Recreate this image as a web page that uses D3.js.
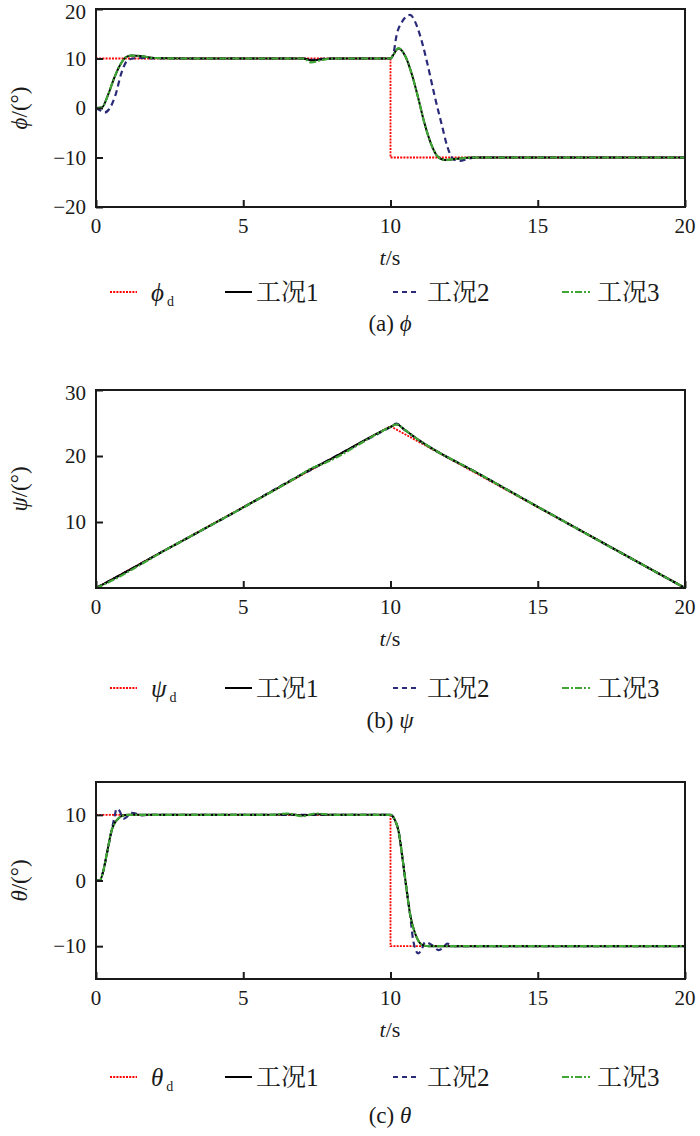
<!DOCTYPE html>
<html lang="en">
<head>
<meta charset="utf-8">
<title>phi psi theta</title>
<script src="https://d3js.org/d3.v7.min.js"></script>
</head>
<body style="margin:0">
<script type="text/javascript">
// x axis (shared)
var xTicks = [0, 5, 10, 15, 20];

// (a) phi
var phiDt = [0, 10, 10, 20];
var phiDv = [10, 10, -10, -10];
var phi1t = [0, 0.2, 0.4, 0.6, 0.8, 1.0, 1.2, 1.5, 2.0, 3, 5, 7.0, 7.15, 7.3, 7.6, 8.0, 9, 10.0, 10.1, 10.27, 10.5, 10.75, 10.95, 11.15, 11.4, 11.6, 11.85, 12.2, 12.8, 15, 20];
var phi1v = [0, 0.1, 2.5, 5.8, 8.5, 10.2, 10.6, 10.5, 10.1, 10, 10, 10, 9.9, 9.6, 9.8, 10, 10, 10, 10.8, 12.0, 10.5, 6.3, 1.8, -3.0, -7.6, -9.8, -10.5, -10.3, -10, -10, -10];
var phi3v = [0, 0.1, 2.5, 5.8, 8.5, 10.2, 10.6, 10.5, 10.1, 10, 10, 10, 9.7, 9.2, 9.6, 10, 10, 10, 10.8, 12.1, 10.5, 6.3, 1.8, -3.0, -7.6, -9.8, -10.5, -10.3, -10, -10, -10];
var phi2t = [0, 0.15, 0.3, 0.45, 0.65, 0.87, 1.05, 1.25, 1.5, 2, 5, 7.1, 7.3, 7.6, 8, 10, 10.1, 10.2, 10.4, 10.66, 10.9, 11.07, 11.27, 11.5, 11.75, 11.92, 12.13, 12.36, 12.6, 13, 20];
var phi2v = [0, -0.5, -0.9, -0.2, 2.4, 7.2, 9.5, 10.0, 10.1, 10, 10, 10, 9.7, 9.9, 10, 10, 11, 14.5, 17.5, 18.8, 16.5, 13.3, 8.5, 2.4, -3.6, -7.6, -10.3, -10.7, -10.3, -10, -10];

// (b) psi
var psiDt = [0, 10, 20];
var psiDv = [0, 24.5, 0];
var psi1t = [0, 0.3, 2.5, 5, 6.9, 7.3, 7.7, 10, 10.2, 10.5, 11, 13, 15, 20];
var psi1v = [0, 0.7, 6.1, 12.2, 17.0, 18.0, 18.9, 24.4, 24.8, 23.9, 22.3, 17.3, 12.3, 0];
var psi2v = [0, 0.7, 6.1, 12.2, 17.0, 17.9, 18.9, 24.4, 24.9, 23.9, 22.3, 17.3, 12.3, 0];
var psi3v = [0, 0.6, 6.1, 12.2, 17.0, 18.1, 18.8, 24.4, 24.8, 23.9, 22.3, 17.3, 12.3, 0];

// (c) theta
var thDt = [0, 10, 10, 20];
var thDv = [10, 10, -10, -10];
var th1t = [0, 0.13, 0.25, 0.37, 0.53, 0.64, 0.75, 0.87, 1.1, 1.5, 6, 6.5, 7, 7.5, 8, 10, 10.05, 10.15, 10.27, 10.43, 10.55, 10.66, 10.83, 10.95, 11.07, 11.3, 20];
var th1v = [0, 0, 1.5, 4.1, 7.6, 8.8, 9.4, 9.8, 10, 10, 10, 10.1, 9.9, 10.1, 10, 10, 9.9, 9.2, 7.6, 2.6, -1.5, -5, -8, -9.2, -9.8, -10, -10];
var th3v = [0, 0, 1.5, 4.1, 7.6, 8.8, 9.4, 9.8, 10, 10, 10, 10.2, 9.8, 10.2, 10, 10, 9.9, 9.2, 7.6, 2.6, -1.5, -5, -8, -9.2, -9.8, -10, -10];
var th2t = [0, 0.13, 0.25, 0.37, 0.53, 0.62, 0.7, 0.8, 0.93, 1.05, 1.2, 1.35, 1.5, 1.8, 6, 10, 10.05, 10.15, 10.27, 10.43, 10.55, 10.66, 10.77, 10.94, 11.05, 11.17, 11.4, 11.63, 11.8, 11.92, 12.2, 20];
var th2v = [0, 0, 1.5, 4.1, 7.6, 9.5, 10.9, 10.6, 9.4, 9.7, 10.3, 10.2, 9.9, 10, 10, 10, 9.9, 9.2, 7.6, 2.6, -1.5, -5, -9.1, -11.1, -10.6, -9.4, -9.8, -10.6, -10.2, -9.6, -10, -10];

var legendNames = ["工况", "工况", "工况"];
var legendNums = ["1", "2", "3"];

var W = 700, H = 1136;
var left = 96, right = 685;
var SERIF = "'Liberation Serif'";
var CJK = "'Noto Serif CJK SC'";
var INK = "#1a1a1a";

var styles = [
  { color: "#ff0000", dash: "2,1.2", width: 1.8 },   // desired
  { color: "#000000", dash: null, width: 2 },         // 1
  { color: "#2a2a78", dash: "6,4", width: 2.2 },      // 2
  { color: "#3fa535", dash: "7,2,2,2", width: 2.2 }   // 3
];

var svg = d3.select("body").append("svg")
  .attr("width", W).attr("height", H);

var x = d3.scaleLinear().domain([0, 20]).range([left, right]);

function zip(t, v) {
  return t.map(function (d, i) { return [d, v[i]]; });
}

// plain text straight under the svg, like d3 examples do
function label(px, py, size, parts, anchor, rot) {
  var t = svg.append("text")
    .style("font-family", SERIF)
    .style("font-size", size + "px")
    .attr("fill", INK)
    .attr("text-anchor", anchor || "start");
  if (rot) t.attr("transform", "translate(" + px + "," + py + ") rotate(-90)");
  else t.attr("x", px).attr("y", py);
  parts.forEach(function (s) {
    var ts = t.append("tspan").text(s.t);
    ts.style("font-family", s.cjk ? CJK : SERIF);
    if (s.it) ts.style("font-style", "italic");
    if (s.size) ts.style("font-size", s.size + "px");
    if (s.dx) ts.attr("dx", s.dx);
    if (s.dy) ts.attr("dy", s.dy);
  });
  return t;
}

function drawPanel(p) {
  var y = d3.scaleLinear().domain(p.domain).range([p.bottom, p.top]);
  var g = svg.append("g");

  // draw order red, navy, black, green
  var order = [0, 2, 1, 3];
  var line = d3.line()
    .x(function (d) { return x(d[0]); })
    .y(function (d) { return y(d[1]); });

  order.forEach(function (k) {
    var s = styles[k];
    var lg = (k === 0) ? line.curve(d3.curveLinear) : line.curve(d3.curveMonotoneX);
    g.append("path")
      .attr("d", lg(p.series[k]))
      .attr("fill", "none")
      .attr("stroke", s.color)
      .attr("stroke-width", s.width)
      .attr("stroke-dasharray", s.dash);
  });

  // x axis: ticks only, labels written separately
  var xa = g.append("g")
    .attr("transform", "translate(0," + p.bottom + ")")
    .call(d3.axisBottom(x).tickValues(xTicks).tickSize(-7).tickFormat(""));
  xa.select(".domain").remove();
  xa.selectAll("line").attr("stroke", INK).attr("stroke-width", 2);
  xTicks.forEach(function (v) {
    label(x(v), p.bottom + 26, 21, [{ t: String(v) }], "middle");
  });

  // y axis
  var ya = g.append("g")
    .attr("transform", "translate(" + left + ",0)")
    .call(d3.axisLeft(y).tickValues(p.ticks).tickSize(-7).tickFormat(""));
  ya.select(".domain").remove();
  ya.selectAll("line").attr("stroke", INK).attr("stroke-width", 2);
  var fmt = d3.format("");
  p.ticks.forEach(function (v) {
    var yy = y(v) + (v === p.domain[1] ? 10 : 7);
    label(left - 10, yy, 21, [{ t: fmt(v) }], "end");
  });

  // frame
  g.append("rect")
    .attr("x", left).attr("y", p.top)
    .attr("width", right - left).attr("height", p.bottom - p.top)
    .attr("fill", "none").attr("stroke", INK).attr("stroke-width", 2);

  // titles
  label(27, (p.top + p.bottom) / 2, 23, [{ t: p.sym, it: true }, { t: "/(°)" }], "middle", true);
  label(390, p.bottom + 58, 22, [{ t: "t", it: true }, { t: "/s" }], "middle");

  // legend
  var ly = p.legendY;
  var items = [
    { x1: 110, x2: 137, tx: 151 },
    { x1: 225, x2: 252, tx: 256 },
    { x1: 393, x2: 420, tx: 427 },
    { x1: 562, x2: 590, tx: 597 }
  ];
  items.forEach(function (it, k) {
    var s = styles[k];
    g.append("line")
      .attr("x1", it.x1).attr("x2", it.x2)
      .attr("y1", ly).attr("y2", ly)
      .attr("stroke", s.color)
      .attr("stroke-width", 2)
      .attr("stroke-dasharray", k === 2 ? "5,4" : s.dash);
    if (k === 0) {
      label(it.tx, ly + 9, 25, [{ t: p.sym, it: true }, { t: "d", size: 14, dx: 3, dy: 5 }]);
    } else {
      label(it.tx, ly + 9, 25, [{ t: legendNames[k - 1], cjk: true }, { t: legendNums[k - 1] }]);
    }
  });

  // caption
  label(390, p.capY, 23, [{ t: "(" + p.letter + ") " }, { t: p.sym, it: true }], "middle");
}

drawPanel({
  top: 9, bottom: 207, domain: [-20, 20], ticks: [-20, -10, 0, 10, 20],
  sym: "ϕ", letter: "a", legendY: 292, capY: 331,
  series: [zip(phiDt, phiDv), zip(phi1t, phi1v), zip(phi2t, phi2v), zip(phi1t, phi3v)]
});

drawPanel({
  top: 390, bottom: 588, domain: [0, 30], ticks: [10, 20, 30],
  sym: "ψ", letter: "b", legendY: 688, capY: 728,
  series: [zip(psiDt, psiDv), zip(psi1t, psi1v), zip(psi1t, psi2v), zip(psi1t, psi3v)]
});

drawPanel({
  top: 782, bottom: 979, domain: [-15, 15], ticks: [-10, 0, 10],
  sym: "θ", letter: "c", legendY: 1077, capY: 1123,
  series: [zip(thDt, thDv), zip(th1t, th1v), zip(th2t, th2v), zip(th1t, th3v)]
});
</script>
</body>
</html>
